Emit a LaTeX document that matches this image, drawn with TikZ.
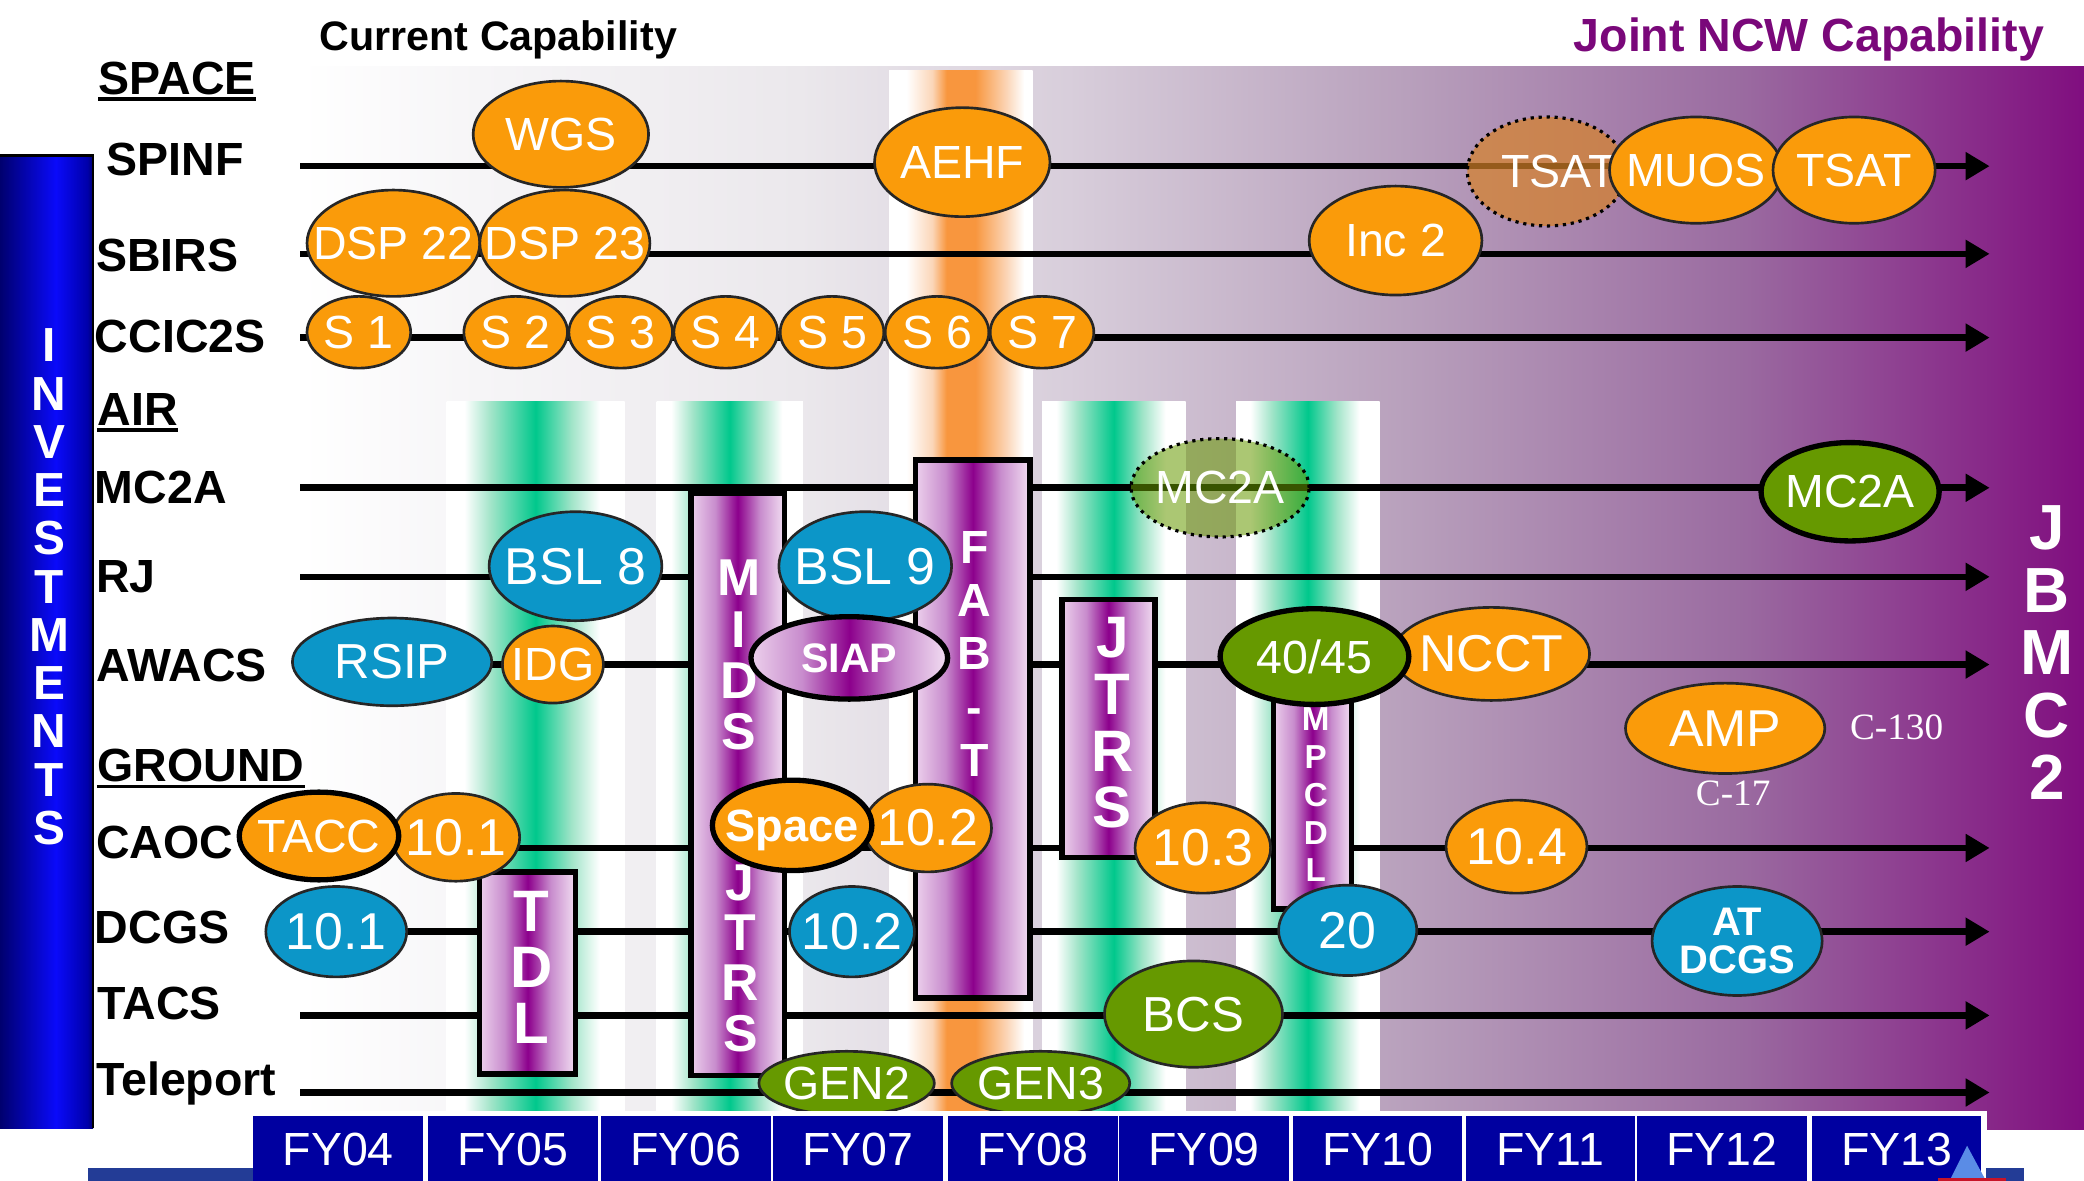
\documentclass[tikz,border=0pt]{standalone}
\usepackage{fontspec}
\setmainfont{Liberation Sans}
\newfontfamily\serifc{Liberation Serif}
\usetikzlibrary{shapes.geometric,arrows.meta}

\definecolor{orangeC}{RGB}{250,155,10}
\definecolor{blueC}{RGB}{12,150,200}
\definecolor{greenC}{RGB}{102,153,0}
\definecolor{tsatC}{RGB}{215,130,40}
\definecolor{fyblue}{RGB}{0,0,160}
\definecolor{jointC}{RGB}{122,8,122}
\definecolor{bgA}{RGB}{246,245,247}
\definecolor{bgB}{RGB}{235,232,236}
\definecolor{bgC}{RGB}{216,206,219}
\definecolor{bgD}{RGB}{184,160,188}
\definecolor{bgE}{RGB}{154,106,160}
\definecolor{bgF}{RGB}{128,14,127}
\definecolor{bandG}{RGB}{0,200,140}
\definecolor{bandGl}{RGB}{160,228,200}
\definecolor{bandO}{RGB}{248,150,62}
\definecolor{bandOl}{RGB}{251,214,184}
\definecolor{barL}{RGB}{236,208,236}
\definecolor{barM}{RGB}{200,140,205}
\definecolor{barD}{RGB}{140,0,140}
\definecolor{barR}{RGB}{242,222,242}
\definecolor{invA}{RGB}{0,0,110}
\definecolor{invB}{RGB}{10,10,250}
\definecolor{invC}{RGB}{0,0,170}
\definecolor{logoA}{RGB}{90,140,230}
\definecolor{logoB}{RGB}{35,60,150}
\definecolor{logoR}{RGB}{200,20,40}

\pgfdeclarehorizontalshading{bgshade}{100bp}{color(0bp)=(white); color(25bp)=(white); color(30bp)=(bgA); color(39bp)=(bgB); color(46.5bp)=(bgC); color(56bp)=(bgD); color(65.5bp)=(bgE); color(75bp)=(bgF); color(100bp)=(bgF)}
\pgfdeclarehorizontalshading{gband}{100bp}{color(0bp)=(white); color(30bp)=(white); color(37.5bp)=(bandGl); color(50bp)=(bandG); color(60bp)=(bandGl); color(68bp)=(white); color(100bp)=(white)}
\pgfdeclarehorizontalshading{oband}{100bp}{color(0bp)=(white); color(31bp)=(white); color(40bp)=(bandOl); color(45bp)=(bandO); color(55bp)=(bandO); color(66bp)=(bandOl); color(72bp)=(white); color(100bp)=(white)}
\pgfdeclarehorizontalshading{barshade}{100bp}{color(0bp)=(barL); color(25bp)=(barL); color(38bp)=(barM); color(50bp)=(barD); color(62bp)=(barM); color(75bp)=(barR); color(100bp)=(barR)}
\pgfdeclarehorizontalshading{invshade}{100bp}{color(0bp)=(invA); color(25bp)=(invA); color(55bp)=(invB); color(72bp)=(invC); color(75bp)=(invA); color(100bp)=(invA)}

\newcommand{\zc}[1]{\makebox[0pt]{#1}}

\begin{document}
\begin{tikzpicture}[x=0.5pt,y=-0.5pt,
  ell/.style={ellipse, inner sep=0pt, draw=black!85, line width=1pt, text=white, font=\fontsize{17.5}{18}\selectfont},
  esz/.style 2 args={minimum width=#1pt, minimum height=#2pt},
  org/.style={ell, fill=orangeC},
  blu/.style={ell, fill=blueC},
  grn/.style={ell, fill=greenC},
  bord/.style={line width=2pt, draw=black},
  big/.style={font=\fontsize{19.5}{20}\selectfont},
  dots/.style={draw=black, line width=1.2pt, dash pattern=on 1.2pt off 1.8pt},
  tl/.style={line width=2.5pt, -{Triangle[length=9pt,width=10pt]}},
  vbar/.style={rectangle, draw=black, line width=2pt, inner sep=0pt, shade, shading=barshade},
  barlbl/.style 2 args={text=white, inner sep=0pt, align=center, font=\bfseries\fontsize{#1}{#2}\selectfont},
  lbl/.style={anchor=base west, inner sep=0pt, font=\bfseries\fontsize{17.5}{18}\selectfont},
  fybox/.style={rectangle, fill=fyblue, inner sep=0pt, minimum width=63.8pt, minimum height=25pt, text=white, font=\fontsize{17.5}{18}\selectfont}
]
\useasboundingbox (0,0) rectangle (1568,888);
\fill[white] (0,0) rectangle (1568,888);

% background gradient and bands
\shade[shading=bgshade] (226,50) rectangle (1568,850);
\shade[shading=oband] (669,53) rectangle (777,838);
\foreach \a/\b in {336/470, 494/604, 784/892, 930/1038}
  \shade[shading=gband] (\a,302) rectangle (\b,838);

% INVESTMENTS bar
\shade[shading=invshade] (0,117) rectangle (70,849);
\draw[line width=1pt] (0,117) -- (70,117) -- (70,849);

% timeline rows
\foreach \n/\y/\xs in {spinf/125/226, sbirs/191/226, ccic/254/226, mctwo/367/226, rj/434/226, awacs/500/295, caoc/638/240, dcgs/701/253, tacs/764/226, tele/822/226}
{
  \coordinate (\n-s) at (\xs,\y);
  \coordinate (\n-e) at (1497,\y);
  \draw[tl] (\n-s) -- (\n-e);
}

% vertical bars
\node[vbar, minimum width=36pt, minimum height=76pt] (tdl) at (397,732) {};
\node[vbar, minimum width=35pt, minimum height=219pt] (mids) at (555,590) {};
\node[vbar, minimum width=43pt, minimum height=202.5pt] (fabt) at (732,548.5) {};
\node[vbar, minimum width=35pt, minimum height=97pt] (jtrsb) at (834,548) {};
\node[vbar, minimum width=29.5pt, minimum height=87pt] (mpcdl) at (987.5,597) {};

\node[barlbl={22}{21}] (tdl-t) at (400,728) {T\\D\\L};
\node[barlbl={19.5}{19.35}] (mids-t) at (556,493) {M\\I\\D\\S};
\node[barlbl={19.5}{18.85}] (jtrsa-t) at (557,721) {J\\T\\R\\S};
\node[barlbl={17.5}{20}] (fabt-t) at (733,492) {F\\A\\B\\-\\T};
\node[barlbl={22}{21.35}] (jtrsb-t) at (837,544) {J\\T\\R\\S};
\node[barlbl={12.5}{14.25}] (mpcdl-t) at (990,598) {M\\P\\C\\D\\L};

% SPINF
\node[org, esz={66}{40}] (wgs) at (422,101) {\zc{WGS}};
\node[org, esz={66}{41}] (aehf) at (724,122) {\zc{AEHF}};
\node[ell, esz={60}{41}, fill=tsatC, fill opacity=0.7, text opacity=1, dots] (tsata) at (1164,129) {\zc{\hspace{9pt}TSAT}};
\node[org, esz={65}{40}] (muos) at (1276,128) {\zc{MUOS}};
\node[org, esz={61}{40}] (tsatb) at (1395,128) {\zc{TSAT}};
% SBIRS
\node[org, esz={65}{40}] (dsp22) at (296,183) {\zc{DSP 22}};
\node[org, esz={64}{40}] (dsp23) at (425,183) {\zc{DSP 23}};
\node[org, esz={65}{41}] (inc2) at (1050,181) {\zc{Inc 2}};
% CCIC2S
\foreach \n/\x in {1/270,2/388,3/467,4/546,5/626,6/705,7/784}
  \node[org, esz={39}{27}] (s\n) at (\x,250) {\zc{S \n}};
% MC2A
\node[ell, esz={67}{37}, fill=greenC, fill opacity=0.55, text opacity=1, dots] (mctwoa) at (918,367) {\zc{MC2A}};
\node[grn, bord, esz={67}{37}] (mctwob) at (1392,370) {\zc{MC2A}};
% RJ
\node[blu, big, esz={65}{41}] (bsl8) at (433,426) {\zc{BSL 8}};
\node[blu, big, esz={65}{41}] (bsl9) at (651,426) {\zc{BSL 9}};
% AWACS
\node[blu, esz={75}{33}, font=\fontsize{18.5}{19}\selectfont] (rsip) at (295,498) {\zc{RSIP}};
\node[org, esz={38}{29}, font=\fontsize{17.5}{18}\selectfont] (idg) at (416,500) {\zc{IDG}};
\node[ell, bord, esz={74}{31}, shade, shading=barshade, font=\bfseries\fontsize{15.5}{16}\selectfont] (siap) at (639,495) {\zc{SIAP}};
\node[org, big, esz={74}{35}] (ncct) at (1122,492) {\zc{NCCT}};
\node[grn, bord, esz={71}{36}] (f4045) at (989,494) {\zc{40/45}};
\node[org, big, esz={75}{34}] (amp) at (1298,548) {\zc{AMP}};
\node[text=white, inner sep=0pt, font=\serifc\fontsize{14}{14}\selectfont] (c130) at (1427,547) {C-130};
\node[text=white, inner sep=0pt, font=\serifc\fontsize{14}{14}\selectfont] (c17) at (1304,597) {C-17};
% CAOC
\node[org, big, esz={48}{33}] (oa101) at (343,630) {\zc{10.1}};
\node[org, bord, esz={60}{33}] (tacc) at (240,629) {\zc{TACC}};
\node[org, big, esz={48}{33}] (oa102) at (698,623) {\zc{10.2}};
\node[org, bord, esz={60}{34}, text depth=0pt, font=\bfseries\fontsize{17}{18}\selectfont] (space) at (596,621) {\zc{Space}};
\node[org, big, esz={51}{34}] (oa103) at (905,638) {\zc{10.3}};
\node[org, big, esz={53}{35}] (oa104) at (1141,637) {\zc{10.4}};
% DCGS
\node[blu, big, esz={53}{34}] (bl101) at (253,701) {\zc{10.1}};
\node[blu, big, esz={47}{34}] (bl102) at (641,701) {\zc{10.2}};
\node[blu, big, esz={52}{34}] (bl20) at (1014,700) {\zc{20}};
\node[blu, esz={64}{41}, align=center, font=\bfseries\fontsize{15}{14.5}\selectfont] (atdcgs) at (1307,708) {\zc{AT}\\\zc{DCGS}};
% TACS
\node[grn, esz={67}{40}, font=\fontsize{18.5}{19}\selectfont] (bcs) at (898,763) {\zc{BCS}};
% Teleport
\node[grn, esz={66}{24}] (gen2) at (637,815) {\zc{GEN2}};
\node[grn, esz={67}{24}] (gen3) at (783,815) {\zc{GEN3}};

% titles
\node[anchor=base, inner sep=0pt, font=\bfseries\fontsize{15.5}{16}\selectfont] (curcap) at (375,38) {Current Capability};
\node[anchor=base, inner sep=0pt, text=jointC, font=\bfseries\fontsize{17.5}{18}\selectfont] (jointcap) at (1361,39) {Joint NCW Capability};

% row labels
\node[lbl] (lspace) at (74,71) {SPACE};
\node[lbl] (lspinf) at (80,132) {SPINF};
\node[lbl] (lsbirs) at (72,204) {SBIRS};
\node[lbl] (lccic) at (71,265) {CCIC2S};
\node[lbl] (lair) at (73,320) {AIR};
\node[lbl] (lmctwo) at (71,379) {MC2A};
\node[lbl] (lrj) at (72,446) {RJ};
\node[lbl] (lawacs) at (72,513) {AWACS};
\node[lbl] (lground) at (73,588) {GROUND};
\node[lbl] (lcaoc) at (72,646) {CAOC};
\node[lbl] (ldcgs) at (71,710) {DCGS};
\node[lbl] (ltacs) at (73,767) {TACS};
\node[lbl] (ltele) at (72,824) {Teleport};
\foreach \u in {lspace,lair,lground}
  \draw[line width=1.25pt] ([yshift=-1.8pt]\u.base west) -- ([yshift=-1.8pt]\u.base east);

% side texts
\node[text=white, inner sep=0pt, align=center, font=\bfseries\fontsize{18}{18.15}\selectfont] (invest) at (37,441.5) {I\\N\\V\\E\\S\\T\\M\\E\\N\\T\\S};
\node[text=white, inner sep=0pt, align=center, font=\bfseries\fontsize{24}{23.5}\selectfont] (jbmc) at (1540,491) {J\\B\\M\\C\\2};

% fiscal years
\fill[white] (188,836) rectangle (1495,890);
\foreach \x/\t in {254.5/FY04, 386/FY05, 516/FY06, 645.5/FY07, 777/FY08, 906/FY09, 1036.5/FY10, 1166.5/FY11, 1295.5/FY12, 1427/FY13}
  \node[fybox] (\t) at (\x,865) {\t};

% bottom fragments
\fill[logoB] (66,879) rectangle (190,890);
\fill[logoA] (1467,888) -- (1480,862) -- (1494,888) -- cycle;
\fill[logoB] (1494,879) rectangle (1523,890);
\fill[logoR] (1458,886) rectangle (1509,890);
\end{tikzpicture}
\end{document}
